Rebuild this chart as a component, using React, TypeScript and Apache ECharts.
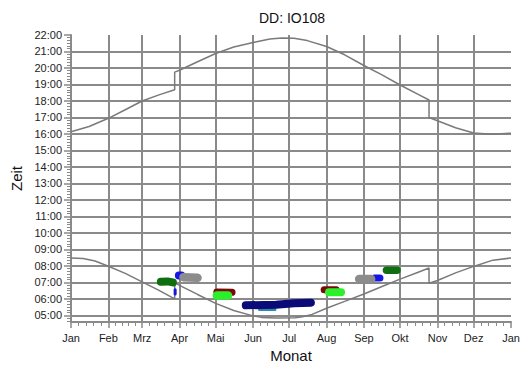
import React, { useEffect, useRef } from "react";
import * as echarts from "echarts";

// ---- axis data ----
const monthNames = ["Jan", "Feb", "Mrz", "Apr", "Mai", "Jun", "Jul", "Aug", "Sep", "Okt", "Nov", "Dez", "Jan"];
const monthStartDays = [0, 31, 59, 90, 120, 151, 181, 212, 243, 273, 304, 334, 365];
const hourTicks = [5, 6, 7, 8, 9, 10, 11, 12, 13, 14, 15, 16, 17, 18, 19, 20, 21, 22];

// ---- curves: [day of year, hour] ----
const sunrise: [number, number][] = [
  [0, 8.48], [10, 8.45], [20, 8.3], [31, 7.98], [45, 7.55], [59, 7.03], [73, 6.52], [86, 6.0],
  [86, 6.97], [90, 6.82], [105, 6.27], [120, 5.73], [135, 5.3], [151, 4.97], [158, 4.88],
  [170, 4.85], [186, 4.86], [192, 4.92], [200, 5.06], [212, 5.43], [227, 5.85], [243, 6.3],
  [258, 6.75], [273, 7.2], [288, 7.62], [297, 7.87], [297, 6.95], [304, 7.12], [319, 7.58],
  [334, 7.97], [350, 8.35], [365, 8.48],
];
const sunset: [number, number][] = [
  [0, 16.13], [15, 16.45], [31, 16.95], [45, 17.47], [59, 18.0], [73, 18.37], [86, 18.68],
  [86, 19.75], [90, 19.86], [105, 20.38], [120, 20.88], [135, 21.27], [152, 21.56], [165, 21.76],
  [175, 21.82], [185, 21.8], [196, 21.66], [212, 21.3], [227, 20.8], [243, 20.15], [258, 19.58],
  [273, 18.97], [288, 18.4], [297, 18.06], [297, 17.0], [304, 16.8], [319, 16.38], [334, 16.06],
  [349, 15.98], [365, 16.05],
];

// ---- observation clusters: [day of year, hour] ----
const greenMar: [number, number][] = [[74.5, 7.04], [80, 7.06], [84.5, 7.0]];
const blueSliver: [number, number][] = [[86.4, 6.55], [86.4, 6.3]];
const blueApr: [number, number][] = [[89.5, 7.42], [91.5, 7.42]];
const grayApr: [number, number][] = [[93.3, 7.32], [105, 7.28]];
const redMay: [number, number][] = [[121, 6.42], [133.6, 6.4]];
const greenMay: [number, number][] = [[121, 6.2], [130.2, 6.2]];
const tealJun: [number, number][] = [[156.4, 5.36], [169.2, 5.36]];
const navyJun: [number, number][] = [[145, 5.61], [170, 5.65], [185, 5.73], [199, 5.77]];
const redAug: [number, number][] = [[210, 6.55], [220, 6.55]];
const greenAug: [number, number][] = [[214, 6.4], [224, 6.4]];
const blueSep: [number, number][] = [[252, 7.27], [256.3, 7.27]];
const graySep: [number, number][] = [[239, 7.21], [249, 7.21]];
const greenOkt: [number, number][] = [[261.7, 7.74], [270.4, 7.74]];

const FONT = "Liberation Sans, Arial, sans-serif";
const GRID = "#8a8a8a";

export default function App() {
  const ref = useRef<HTMLDivElement>(null);
  useEffect(() => {
    if (!ref.current) return;
    const chart = echarts.init(ref.current, undefined, { renderer: "svg" });

    const minorX: number[] = [];
    for (let i = 0; i < monthStartDays.length - 1; i++) {
      const a = monthStartDays[i];
      const b = monthStartDays[i + 1];
      for (let k = 1; k < 5; k++) minorX.push(a + ((b - a) * k) / 5);
    }
    const minorY: number[] = [];
    for (let h = 4; h < 22; h++) {
      for (let k = 1; k < 6; k++) {
        const v = h + k / 6;
        if (v >= 4.6 && v <= 22) minorY.push(v);
      }
    }
    const splitX = monthStartDays.filter((d) => d > 0 && d < 365);
    const splitY = hourTicks.filter((h) => h < 22);

    const blob = (data: [number, number][], color: string, width: number) => ({
      type: "line",
      data,
      symbol: "none",
      silent: true,
      lineStyle: { color, width, cap: "round", join: "round" },
      z: 5,
    });

    const baseX = { type: "value", min: 0, max: 365, gridIndex: 0, position: "bottom" };
    const baseY = { type: "value", min: 4.6, max: 22, gridIndex: 0, position: "left" };

    chart.setOption({
      animation: false,
      backgroundColor: "#fff",
      title: {
        text: "DD: IO108",
        left: 287,
        textAlign: "center",
        top: 6,
        textStyle: { fontFamily: FONT, fontSize: 14, fontWeight: "normal", color: "#111" },
      },
      grid: { left: 71, right: 12, top: 35, bottom: 43, containLabel: false, outerBoundsMode: "none" },
      xAxis: [
        {
          ...baseX,
          name: "Monat",
          nameLocation: "middle",
          nameGap: 23,
          nameTextStyle: { fontFamily: FONT, fontSize: 15, color: "#111" },
          axisLine: { show: true, onZero: false, lineStyle: { color: GRID, width: 2 } },
          axisTick: { show: true, inside: false, length: 6, customValues: monthStartDays, lineStyle: { color: GRID, width: 1.5 } },
          axisLabel: {
            customValues: monthStartDays,
            margin: 10,
            fontFamily: FONT,
            fontSize: 11,
            color: "#222",
            formatter: (v: number) => monthNames[monthStartDays.indexOf(Math.round(v))] ?? "",
          },
          splitLine: { show: false },
        },
        {
          ...baseX,
          axisLine: { show: false },
          axisTick: { show: false, customValues: splitX },
          axisLabel: { show: false },
          splitLine: { show: true, lineStyle: { color: GRID, width: 2 } },
        },
        {
          ...baseX,
          axisLine: { show: false, onZero: false },
          axisTick: { show: true, length: 4, customValues: minorX, lineStyle: { color: GRID, width: 1 } },
          axisLabel: { show: false },
          splitLine: { show: false },
        },
      ],
      yAxis: [
        {
          ...baseY,
          name: "Zeit",
          nameLocation: "middle",
          nameGap: 47,
          nameTextStyle: { fontFamily: FONT, fontSize: 15, color: "#111" },
          axisLine: { show: true, onZero: false, lineStyle: { color: GRID, width: 2 } },
          axisTick: { show: true, length: 7, customValues: hourTicks, lineStyle: { color: GRID, width: 1.5 } },
          axisLabel: {
            customValues: hourTicks,
            margin: 9,
            fontFamily: FONT,
            fontSize: 11,
            color: "#222",
            formatter: (v: number) => String(Math.round(v)).padStart(2, "0") + ":00",
          },
          splitLine: { show: false },
        },
        {
          ...baseY,
          axisLine: { show: false },
          axisTick: { show: false, customValues: splitY },
          axisLabel: { show: false },
          splitLine: { show: true, lineStyle: { color: GRID, width: 2 } },
        },
        {
          ...baseY,
          axisLine: { show: false, onZero: false },
          axisTick: { show: true, length: 4, customValues: minorY, lineStyle: { color: GRID, width: 1 } },
          axisLabel: { show: false },
          splitLine: { show: false },
        },
      ],
      series: [
        { type: "line", data: sunset, symbol: "none", silent: true, lineStyle: { color: "#7a7a7a", width: 1.5 }, z: 3 },
        { type: "line", data: sunrise, symbol: "none", silent: true, lineStyle: { color: "#7a7a7a", width: 1.5 }, z: 3 },
        blob(greenMar, "#0f6e0f", 8),
        blob(blueSliver, "#1515e6", 3),
        blob(blueApr, "#1515e6", 8),
        blob(grayApr, "#8c8c8c", 8.5),
        blob(redMay, "#7a0a0a", 7),
        blob(greenMay, "#2cf02c", 8.5),
        blob(tealJun, "#2a8aa8", 3),
        blob(navyJun, "#0a0a78", 8),
        blob(redAug, "#7a0a0a", 7),
        blob(greenAug, "#2cf02c", 8),
        blob(blueSep, "#1515e6", 7),
        blob(graySep, "#8c8c8c", 8.5),
        blob(greenOkt, "#0f6e0f", 7.5),
      ],
    });
    return () => chart.dispose();
  }, []);
  return <div ref={ref} style={{ position: "fixed", left: 0, top: 0, width: 523, height: 365 }} />;
}
